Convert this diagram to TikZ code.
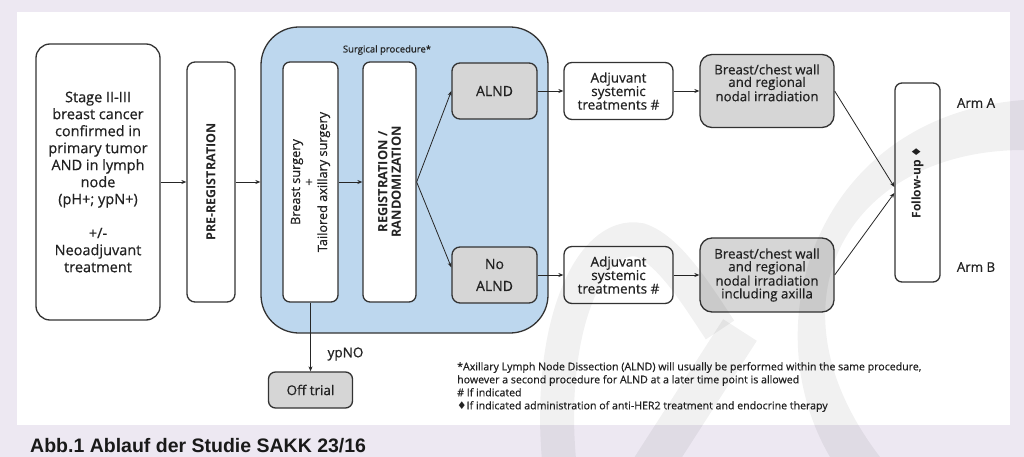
\documentclass[tikz,border=0pt]{standalone}
\usepackage{fontspec}
\setmainfont{Open Sans}[UprightFeatures={FakeBold=0.6}]
\newfontfamily\capfont{Liberation Sans}
\newfontfamily\symfont{DejaVu Sans}
\usepackage{tikz}
\usetikzlibrary{arrows.meta}
\definecolor{pagelav}{HTML}{EDE8F2}
\definecolor{surgblue}{HTML}{BDD7EE}
\definecolor{boxgrey}{HTML}{D6D6D6}
\definecolor{inkgrey}{HTML}{222222}
\newcommand{\fsz}[2]{\fontsize{#1}{#2}\selectfont}
\newcommand{\dia}{{\symfont\char"2666}}

\begin{document}
\begin{tikzpicture}[x=1pt, y=-1pt, text=inkgrey,
    box/.style={draw=black!80, line width=1.3pt, align=center, inner sep=0pt},
    arr/.style={-{Stealth[length=5pt,width=4pt]}, line width=0.8pt, draw=black!85}]
    \useasboundingbox (0,0) rectangle (1024,457);
    \fill[pagelav] (0,0) rectangle (1024,457);
    \fill[white] (17,12) rectangle (1010,425);

    % surgical procedure frame
    \node[box, fill=surgblue, rounded corners=38pt, minimum width=287pt, minimum height=306pt] (surg) at (404.5,180) {};
    \node[font=\fsz{9.5}{11}] (surgtitle) at (387,50) {Surgical procedure*};

    \node[box, rounded corners=14pt, minimum width=124pt, minimum height=276pt, font=\fsz{14.5}{17}] (stage) at (98,182)
        {Stage II-III\\breast cancer\\confirmed in\\primary tumor\\AND in lymph\\node\\(pH+; ypN+)\\[17pt]+/-\\Neoadjuvant\\treatment};
    \node[box, rotate=90, rounded corners=8pt, minimum width=240pt, minimum height=48pt, font=\bfseries\fsz{12.5}{14}] (prereg) at (211,182) {PRE-REGISTRATION};
    \node[box, fill=white, rotate=90, rounded corners=7pt, minimum width=240pt, minimum height=55pt, font=\fsz{12.7}{13.5}] (bsurg) at (310.5,182)
        {Breast surgery\\+\\Tailored axillary surgery};
    \node[box, fill=white, rotate=90, rounded corners=7pt, minimum width=240pt, minimum height=53pt, font=\bfseries\fsz{12.8}{13.5}] (reg) at (389.5,182)
        {REGISTRATION /\\RANDOMIZATION};

    % arm A
    \node[box, fill=boxgrey, rounded corners=8pt, minimum width=85pt, minimum height=56pt, font=\fsz{14}{17}] (alnd) at (494.5,91) {ALND};
    \node[box, rounded corners=8pt, minimum width=109pt, minimum height=57pt, font=\fsz{13.5}{13.5}] (adj1) at (618.5,91)
        {Adjuvant\\systemic\\treatments \#};
    \node[box, fill=boxgrey, rounded corners=12pt, minimum width=134pt, minimum height=73pt, font=\fsz{13.3}{12.5}] (br1) at (767,91)
        {Breast/chest wall\\and regional\\nodal irradiation\\[4pt]~};

    % arm B
    \node[box, fill=boxgrey, rounded corners=8pt, minimum width=85pt, minimum height=56pt, font=\fsz{14}{17}] (noalnd) at (494.5,275) {No\\[5pt]ALND};
    \node[box, rounded corners=8pt, minimum width=109pt, minimum height=57pt, font=\fsz{13.5}{13.5}] (adj2) at (618.5,275)
        {Adjuvant\\systemic\\treatments \#};
    \node[box, fill=boxgrey, rounded corners=12pt, minimum width=134pt, minimum height=74pt, font=\fsz{13.3}{12.8}] (br2) at (767,275)
        {Breast/chest wall\\and regional\\nodal irradiation\\including axilla};

    \node[box, rotate=90, rounded corners=7pt, minimum width=199pt, minimum height=45pt, font=\bfseries\fsz{12}{14}] (fup) at (917.5,182.5) {Follow-up \dia};
    \node[font=\fsz{13.3}{15}] (arma) at (976,103) {Arm A};
    \node[font=\fsz{13.3}{15}] (armb) at (976,267) {Arm B};

    \node[box, fill=boxgrey, rounded corners=7pt, minimum width=84pt, minimum height=36pt, font=\fsz{13.5}{15}] (off) at (310.5,390) {Off trial};
    \node[font=\fsz{13.5}{15}] (ypno) at (345.5,354) {ypNO};

    \node[anchor=north west, align=left, inner sep=0pt, font=\fsz{10.6}{13}] (notes) at (457,362)
        {*Axillary Lymph Node Dissection (ALND) will usually be performed within the same procedure,\\
         however a second procedure for ALND at a later time point is allowed\\
         \# If indicated\\
         \dia If indicated administration of anti-HER2 treatment and endocrine therapy};

    \node[anchor=base west, inner sep=0pt, text=black!90, font=\capfont\bfseries\fsz{19.5}{22}] (caption) at (30,452)
        {Abb.1 Ablauf der Studie SAKK 23/16};

    % connectors
    \draw[arr] (stage.east) -- (prereg.north);
    \draw[arr] (prereg.south) -- (prereg.south -| surg.west);
    \draw[arr] (bsurg.south) -- (reg.north);
    \draw[arr] (reg.south) -- (alnd.west);
    \draw[arr] (reg.south) -- (noalnd.170);
    \draw[arr] (alnd.east) -- (adj1.west);
    \draw[arr] (adj1.east) -- (br1.west);
    \draw[arr] (noalnd.east) -- (adj2.west);
    \draw[arr] (adj2.east) -- (br2.west);
    \draw[arr] (br1.east) -- ([yshift=-4.5pt]fup.north);
    \draw[arr] (br2.east) -- ([yshift=-10.5pt]fup.north);
    \draw[arr] (bsurg.west) -- (off.north);

    % watermark
    \fill[black, fill opacity=0.055] (830,457) .. controls (750,320) and (820,115) .. (1024,100)
        -- (1024,150) .. controls (850,150) and (760,300) .. (880,457) -- cycle;
    \draw[black, draw opacity=0.055, line width=34pt] (560,470) .. controls (545,330) and (590,230) .. (640,240)
        .. controls (670,250) and (700,300) .. (720,330);
    \draw[black, draw opacity=0.055, line width=40pt] (650,470) -- (740,330);
\end{tikzpicture}
\end{document}
